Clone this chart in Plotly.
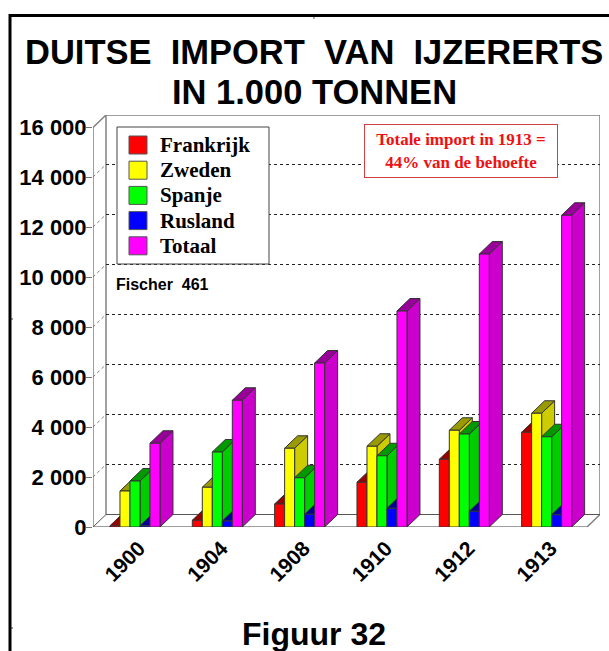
import plotly.graph_objects as go

years = ["1900", "1904", "1908", "1910", "1912", "1913"]
series_names = ["Frankrijk", "Zweden", "Spanje", "Rusland", "Totaal"]
frankrijk = [50, 270, 920, 1790, 2710, 3790]
zweden = [1440, 1590, 3150, 3230, 3870, 4550]
spanje = [1840, 3000, 1970, 2850, 3720, 3610]
rusland = [50, 240, 510, 750, 630, 490]
totaal = [3350, 5070, 6560, 8640, 10920, 12470]
series_values = [frankrijk, zweden, spanje, rusland, totaal]
front_colors = ["#FF0000", "#FFFF00", "#00FF00", "#0000FF", "#FF00FF"]
side_colors = ["#CC0000", "#CCCC00", "#00CC00", "#0000CC", "#CC00CC"]
top_colors = ["#990000", "#999900", "#009900", "#000099", "#990099"]
y_ticks = [0, 2000, 4000, 6000, 8000, 10000, 12000, 14000, 16000]
y_tick_labels = ["0", "2 000", "4 000", "6 000", "8 000", "10 000", "12 000", "14 000", "16 000"]

W, H = 609, 651
L, R, T, B = 93, 600, 115, 527
PX_PER_CAT = 494 / 6
PX_PER_UNIT = 0.025
DX = 13 / PX_PER_CAT
DY = 12.5 / PX_PER_UNIT
BAR_W = 10 / PX_PER_CAT
BAR_SHIFT = 0.8 / PX_PER_CAT
X_MAX = (R - L) / PX_PER_CAT
Y_MAX = (B - T) / PX_PER_UNIT
FRAME = "#808080"
LINE = "#333333"

fig = go.Figure()

def poly(xs, ys, fill, name):
    return go.Scatter(x=xs, y=ys, mode="lines", fill="toself", fillcolor=fill,
                      line=dict(color=LINE, width=1), showlegend=False,
                      hoverinfo="skip", name=name)

def frame_line(xs, ys, dash="solid", color=FRAME, width=1.5):
    fig.add_trace(go.Scatter(x=xs, y=ys, mode="lines", showlegend=False, hoverinfo="skip",
                             line=dict(color=color, width=width, dash=dash)))

# back wall, left wall, floor
frame_line([DX, X_MAX, X_MAX], [Y_MAX, Y_MAX, DY])
frame_line([DX, DX], [DY, Y_MAX])
frame_line([0, 0, DX], [0, Y_MAX - DY, Y_MAX])
frame_line([0, 6, X_MAX], [0, 0, DY])
frame_line([0, DX, X_MAX], [0, DY, DY], color="#555555", width=1)

# gridlines
for v in y_ticks[1:-1]:
    frame_line([DX, X_MAX], [v + DY, v + DY], dash="3px,3px", color="#222222", width=1)
    frame_line([0, DX], [v, v + DY], dash="3px,3px", color="#777777", width=1)

# bars, drawn from left to right so each bar hides the side of its neighbour
for s, vals in enumerate(series_values):
    sx, sy, tx, ty, fx, fy = [], [], [], [], [], []
    for g, v in enumerate(vals):
        x0 = g + 0.5 + BAR_SHIFT + (s - 2.5) * BAR_W
        x1 = x0 + BAR_W
        sx += [x1, x1 + DX, x1 + DX, x1, x1, None]
        sy += [0, DY, v + DY, v, 0, None]
        tx += [x0, x0 + DX, x1 + DX, x1, x0, None]
        ty += [v, v + DY, v + DY, v, v, None]
        fx += [x0, x1, x1, x0, x0, None]
        fy += [0, 0, v, v, 0, None]
    fig.add_trace(poly(sx, sy, side_colors[s], series_names[s] + " zijkant"))
    fig.add_trace(poly(tx, ty, top_colors[s], series_names[s] + " bovenkant"))
    fig.add_trace(poly(fx, fy, front_colors[s], series_names[s]))

ARIAL = "Liberation Sans"
TIMES = "Liberation Serif"

annotations = [
    dict(text="<b>DUITSE  IMPORT  VAN  IJZERERTS</b>", x=314 / W, y=1 - 52 / H, font=dict(family=ARIAL, size=34.5, color="#000")),
    dict(text="<b>IN 1.000 TONNEN</b>", x=314 / W, y=1 - 92 / H, font=dict(family=ARIAL, size=34.5, color="#000")),
    dict(text="<b>Figuur 32</b>", x=314 / W, y=1 - 634 / H, font=dict(family=ARIAL, size=32, color="#000")),
    dict(text="<b>Fischer  461</b>", x=162 / W, y=1 - 284 / H, font=dict(family=ARIAL, size=16, color="#000")),
    dict(text="<b>Totale import in 1913 =<br>44% van de behoefte</b>", x=461 / W, y=1 - 151 / H,
         font=dict(family=TIMES, size=17, color="#F01010"), bgcolor="#FFFFFF", bordercolor="#D04040",
         borderwidth=1, width=190, height=50),
]
for a in annotations:
    a.update(xanchor="center")

shapes = [
    dict(type="line", x0=9 / W, x1=1, y0=1 - 15.5 / H, y1=1 - 15.5 / H, line=dict(color="#000", width=3)),
    dict(type="line", x0=10 / W, x1=10 / W, y0=0, y1=1 - 14 / H, line=dict(color="#000", width=3)),
    dict(type="line", x0=314 / W, x1=314 / W, y0=1 - 17 / H, y1=1 - 19 / H, line=dict(color="#555", width=1)),
    dict(type="line", x0=11 / W, x1=13 / W, y0=1 - 319 / H, y1=1 - 319 / H, line=dict(color="#333", width=1)),
    dict(type="line", x0=11 / W, x1=13 / W, y0=1 - 628 / H, y1=1 - 628 / H, line=dict(color="#333", width=1)),
    dict(type="rect", x0=117 / W, x1=269 / W, y0=1 - 264 / H, y1=1 - 127 / H,
         fillcolor="#FFFFFF", line=dict(color="#444444", width=1), layer="above"),
]

# legend: swatch and label per series
for s, name in enumerate(series_names):
    cy = 145 + 25.2 * s
    shapes.append(dict(type="rect", x0=129 / W, x1=147 / W, y0=1 - (cy + 9) / H, y1=1 - (cy - 9) / H,
                       fillcolor=front_colors[s], line=dict(color="#555555", width=1), layer="above"))
    annotations.append(dict(text=f"<b>{name}</b>", x=157.5 / W, y=1 - cy / H, xanchor="left",
                            font=dict(family=TIMES, size=21, color="#000")))

for a in annotations:
    a.update(xref="paper", yref="paper", yanchor="middle", showarrow=False)
for sh in shapes:
    sh.update(xref="paper", yref="paper")

fig.update_layout(
    width=W, height=H, autosize=False,
    margin=dict(l=0, r=0, t=0, b=0, autoexpand=False, pad=0),
    paper_bgcolor="#FFFFFF", plot_bgcolor="#FFFFFF",
    showlegend=False,
    annotations=annotations,
    shapes=shapes,
    xaxis=dict(domain=[L / W, R / W], range=[0, X_MAX], tickmode="array",
               tickvals=[i + 0.5 for i in range(6)], ticktext=years, tickangle=-45,
               showgrid=False, zeroline=False, showline=False, ticks="",
               ticklabelstandoff=4, ticklabelshift=5,
               tickfont=dict(family=ARIAL, size=21, color="#000", weight="bold"), automargin=False),
    yaxis=dict(domain=[1 - B / H, 1 - T / H], range=[0, Y_MAX], tickmode="array",
               tickvals=y_ticks, ticktext=y_tick_labels, showgrid=False, zeroline=False,
               showline=False, ticks="outside", ticklen=6, tickcolor="#777777", tickwidth=1,
               ticklabelstandoff=-5,
               tickfont=dict(family=ARIAL, size=22, color="#000", weight="bold"), automargin=False),
)

fig.write_html("out.html", config=dict(displayModeBar=False),
               post_script="document.body.style.margin='0';document.documentElement.style.overflow='hidden';")
